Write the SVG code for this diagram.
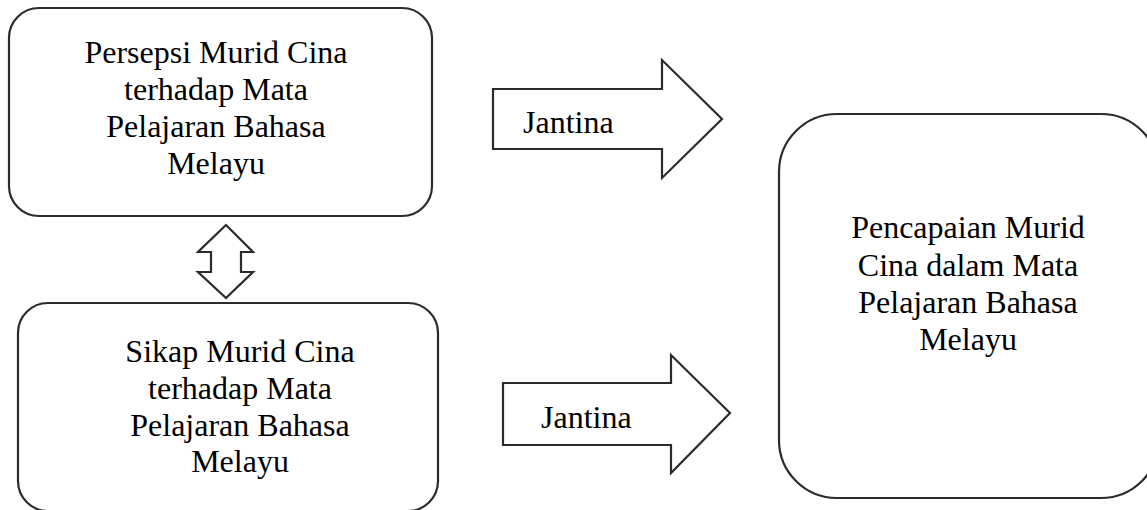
<svg xmlns="http://www.w3.org/2000/svg" width="1147" height="510" viewBox="0 0 1147 510">
<style>
.box{fill:#fff;stroke:#2b2b2b;stroke-width:2.2}
.arr{fill:#fff;stroke:#2b2b2b;stroke-width:2.2;stroke-linejoin:miter}
text{font-family:"Liberation Serif","Times New Roman",serif;font-size:32px;fill:#000}
.c{text-anchor:middle}
</style>
<rect width="1147" height="510" fill="#fff"/>
<g id="node-persepsi">
<rect class="box" x="9" y="8" width="423" height="208" rx="30" ry="30"/>
<text class="c" x="216" y="63">Persepsi Murid Cina</text>
<text class="c" x="216" y="100">terhadap Mata</text>
<text class="c" x="216" y="137">Pelajaran Bahasa</text>
<text class="c" x="216" y="174">Melayu</text>
</g>
<g id="node-sikap">
<rect class="box" x="18" y="303" width="420" height="208" rx="30" ry="30"/>
<text class="c" x="240" y="362">Sikap Murid Cina</text>
<text class="c" x="240" y="399">terhadap Mata</text>
<text class="c" x="240" y="436">Pelajaran Bahasa</text>
<text class="c" x="240" y="472">Melayu</text>
</g>
<g id="node-pencapaian">
<rect class="box" x="779" y="114" width="380" height="384" rx="58" ry="58"/>
<text class="c" x="968" y="238">Pencapaian Murid</text>
<text class="c" x="968" y="276">Cina dalam Mata</text>
<text class="c" x="968" y="313">Pelajaran Bahasa</text>
<text class="c" x="968" y="350">Melayu</text>
</g>
<g id="connectors">
<path class="arr" d="M226,225 L253,252 L241,252 L241,272 L253,272 L226,298 L198,272 L211,272 L211,252 L198,252 Z"/>
<g id="arrow-jantina-1">
<path class="arr" d="M493,89 L662,89 L662,60 L722,119 L662,178 L662,149 L493,149 Z"/>
<text x="523" y="133">Jantina</text>
</g>
<g id="arrow-jantina-2">
<path class="arr" d="M503,383 L671,383 L671,355 L730,413 L671,473 L671,445 L503,445 Z"/>
<text x="541" y="428">Jantina</text>
</g>
</g>
</svg>
